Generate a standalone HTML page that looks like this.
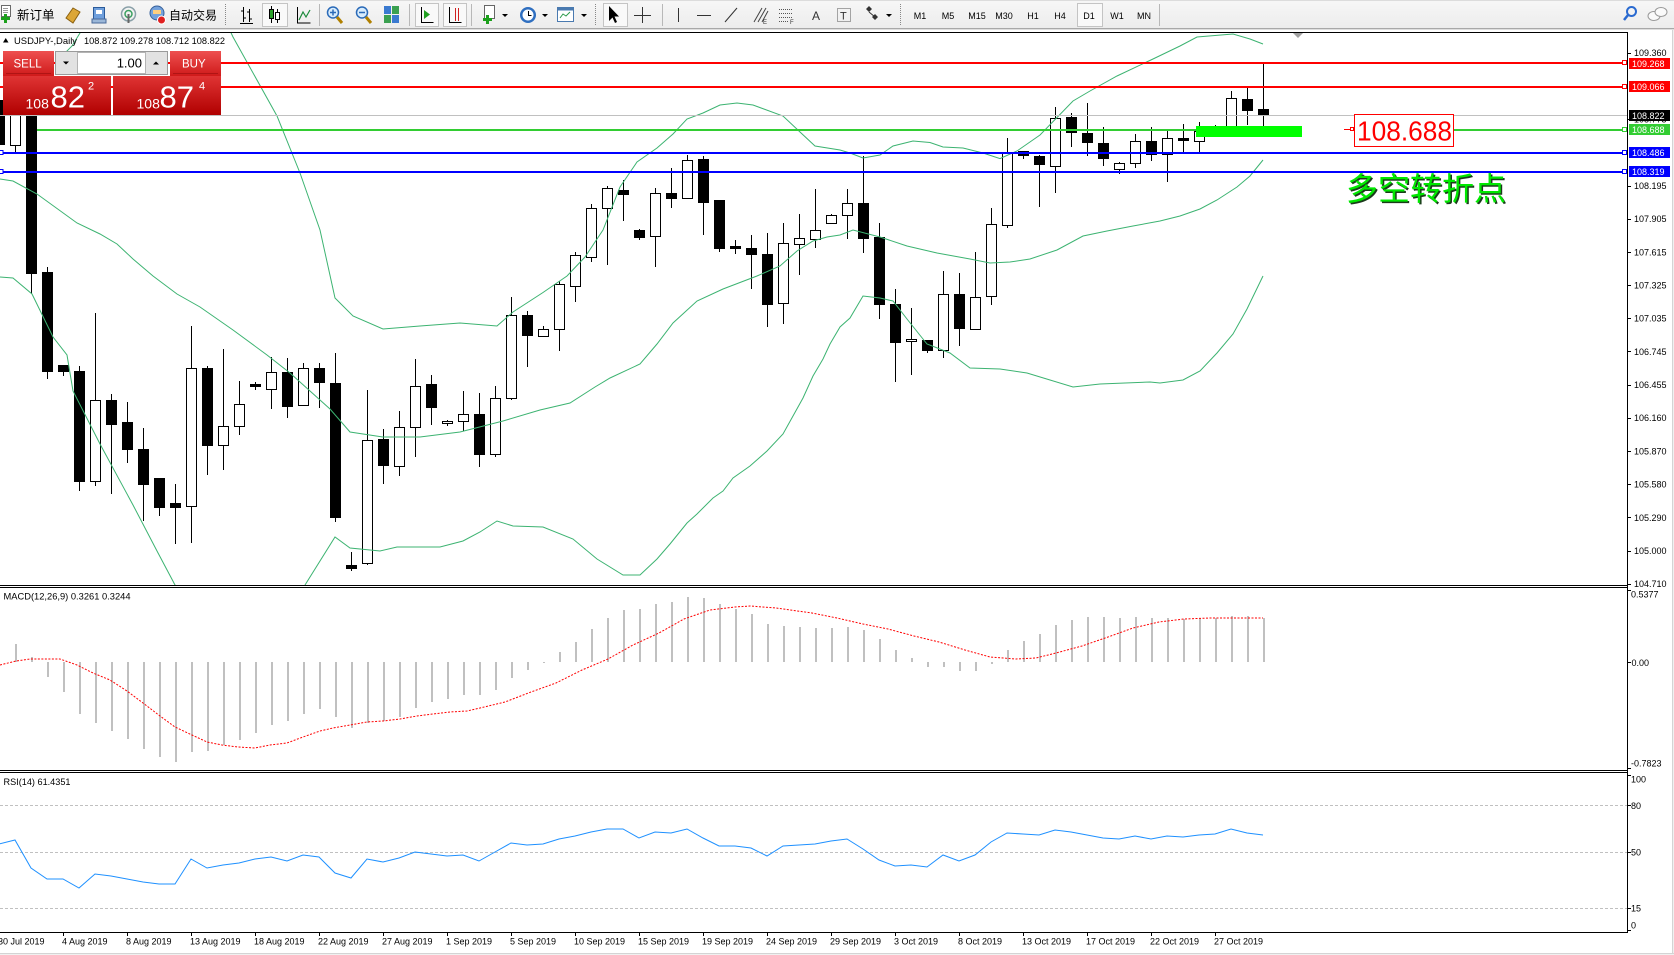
<!DOCTYPE html>
<html><head><meta charset="utf-8">
<style>
html,body{margin:0;padding:0;background:#fff;width:1674px;height:955px;overflow:hidden}
svg{display:block}
text{font-family:"Liberation Sans","Noto Sans CJK SC",sans-serif}
</style></head><body>
<svg xmlns="http://www.w3.org/2000/svg" width="1674" height="955" viewBox="0 0 1674 955">
<defs>
<clipPath id="cm"><rect x="0" y="33" width="1627" height="552"/></clipPath>
<clipPath id="cd"><rect x="0" y="588" width="1627" height="182"/></clipPath>
<clipPath id="cr"><rect x="0" y="773" width="1627" height="159"/></clipPath>
<linearGradient id="gbtn" x1="0" y1="0" x2="0" y2="1"><stop offset="0" stop-color="#ee5050"/><stop offset="1" stop-color="#cf1a1a"/></linearGradient>
<linearGradient id="gpr" x1="0" y1="0" x2="0" y2="1"><stop offset="0" stop-color="#e03434"/><stop offset="1" stop-color="#b00000"/></linearGradient>
<linearGradient id="gtb" x1="0" y1="0" x2="0" y2="1"><stop offset="0" stop-color="#f7f7f7"/><stop offset="1" stop-color="#ececec"/></linearGradient>
</defs>

<!-- ===== TOOLBAR ===== -->
<rect x="0" y="0" width="1674" height="29" fill="url(#gtb)"/>
<rect x="0" y="0" width="1674" height="1" fill="#dcdcdc"/>
<rect x="0" y="28" width="1674" height="1" fill="#a8a8a8"/>
<rect x="0" y="29" width="1674" height="1" fill="#dedede"/>

<!-- pressed boxes -->
<g fill="#f9f9f9" stroke="#c4c4c4">
<rect x="262.5" y="3.5" width="25" height="23"/>
<rect x="415.5" y="3.5" width="23" height="23"/>
<rect x="443.5" y="3.5" width="23" height="23"/>
<rect x="603.5" y="3.5" width="24" height="23"/>
<rect x="1077.5" y="3.5" width="25" height="23"/>
</g>

<!-- new order -->
<rect x="1.5" y="5.5" width="9" height="11" fill="#fff" stroke="#6a6a6a"/>
<path d="M3 8.5h5M3 10.5h5M3 12.5h5" stroke="#9a9a9a"/>
<path d="M1 18.5h9M5.5 14v9" stroke="#1ca01c" stroke-width="3"/>
<text x="17" y="19.5" font-size="12.5" fill="#000">新订单</text>
<!-- gold -->
<polygon points="66,18 73,8 80,12 73,23" fill="#dca636" stroke="#8a6010"/>
<!-- blue doc -->
<rect x="93.5" y="7.5" width="11" height="14" fill="#6f9fdc" stroke="#2a5a9a"/>
<rect x="96" y="10" width="6" height="4" fill="#fff"/>
<rect x="92" y="19" width="14" height="4" fill="#9bb7d8" stroke="#4a6a9a"/>
<!-- antenna -->
<circle cx="128.5" cy="14" r="7" fill="none" stroke="#8aa0a8" stroke-width="1.5"/>
<circle cx="128.5" cy="14" r="3.5" fill="none" stroke="#3aa060" stroke-width="1.5"/>
<rect x="127.5" y="14" width="2" height="9" fill="#666"/>
<!-- robot -->
<circle cx="157" cy="13" r="7" fill="#74a2dc" stroke="#355f99"/>
<rect x="153" y="10" width="8" height="4" fill="#ffd080"/>
<circle cx="161.5" cy="20" r="4" fill="#e02020" stroke="#fff"/>
<text x="169" y="19.5" font-size="12" fill="#000">自动交易</text>

<g stroke="#888" stroke-dasharray="1 1">
<line x1="225.5" y1="4" x2="225.5" y2="26"/>
<line x1="595.5" y1="4" x2="595.5" y2="26"/>
<line x1="900.5" y1="4" x2="900.5" y2="26"/>
</g>
<g stroke="#b8b8b8">
<line x1="319.5" y1="4" x2="319.5" y2="26"/>
<line x1="409.5" y1="4" x2="409.5" y2="26"/>
<line x1="471.5" y1="4" x2="471.5" y2="26"/>
<line x1="662.5" y1="4" x2="662.5" y2="26"/>
<line x1="1159.5" y1="4" x2="1159.5" y2="26"/>
</g>

<!-- chart type icons -->
<path d="M243.5 7v15M241 11h2.5M243.5 18h2.5M249.5 9v13M247 12h2.5M249.5 19h2.5M240 23.5h13" stroke="#000" fill="none"/>
<path d="M271.5 6v17M277.5 9v14" stroke="#000"/>
<rect x="269.5" y="9.5" width="4" height="9" fill="#2aa02a" stroke="#000"/>
<rect x="275.5" y="12.5" width="4" height="7" fill="#fff" stroke="#000"/>
<path d="M297.5 7v16h13" stroke="#000" fill="none"/>
<path d="M299 20l4-8 3 5 4-7" stroke="#1a8a3a" fill="none" stroke-width="1.2"/>
<!-- zoom -->
<circle cx="333" cy="12.5" r="5.5" fill="#d8ecfc" stroke="#2a6ab8" stroke-width="1.5"/>
<path d="M330 12.5h6M333 9.5v6" stroke="#2a6ab8" stroke-width="1.5"/>
<path d="M337 17l5 6" stroke="#b08000" stroke-width="3"/>
<circle cx="362" cy="12.5" r="5.5" fill="#d8ecfc" stroke="#2a6ab8" stroke-width="1.5"/>
<path d="M359 12.5h6" stroke="#2a6ab8" stroke-width="1.5"/>
<path d="M366 17l5 6" stroke="#b08000" stroke-width="3"/>
<!-- tile -->
<rect x="384" y="6" width="7" height="8" fill="#3a7ad0"/>
<rect x="392" y="6" width="7" height="8" fill="#3aa050"/>
<rect x="384" y="15" width="7" height="8" fill="#3aa050"/>
<rect x="392" y="15" width="7" height="8" fill="#3a7ad0"/>
<!-- scroll / shift -->
<path d="M421.5 7v15.5h12" stroke="#000" fill="none"/>
<polygon points="424,10 424,19 430,14.5" fill="#22a022"/>
<path d="M449.5 7v15.5h12" stroke="#000" fill="none"/>
<path d="M455.5 8v13M458.5 8v13" stroke="#d02020"/>
<!-- indicators/time/template -->
<rect x="484.5" y="5.5" width="10" height="13" fill="#fff" stroke="#666"/>
<path d="M483 19.5h9M487.5 15v9" stroke="#1ca01c" stroke-width="3"/>
<polygon points="502,14 508,14 505,17" fill="#000"/>
<circle cx="528" cy="15" r="8" fill="#2f6fc0"/>
<circle cx="528" cy="15" r="5.5" fill="#fff"/>
<path d="M528.5 11v4.5h3" stroke="#000" fill="none"/>
<polygon points="542,14 548,14 545,17" fill="#000"/>
<rect x="557.5" y="7.5" width="16" height="14" fill="#fff" stroke="#4a7ab0"/>
<rect x="557.5" y="7.5" width="16" height="3" fill="#4a7ab0"/>
<path d="M560 18l3-4 3 2 4-4" stroke="#2a9a4a" fill="none"/>
<polygon points="581,14 587,14 584,17" fill="#000"/>
<!-- drawing tools -->
<polygon points="609,6 609,21 612.5,17.5 615,23 617,22 614.5,16.5 619,16.5" fill="#000"/>
<path d="M642.5 7v16M634 15.5h17" stroke="#333"/>
<path d="M678.5 8v14" stroke="#333"/>
<path d="M697 15.5h14" stroke="#333"/>
<path d="M725 22l12-14" stroke="#333"/>
<path d="M754 22l8-14M758 22l8-14M762 22l6-11" stroke="#444"/>
<text x="763" y="24" font-size="6" fill="#333">E</text>
<path d="M779 9.5h14M779 13.5h14M779 17.5h14M779 21.5h10" stroke="#555" stroke-dasharray="1 1"/>
<text x="790" y="24" font-size="6" fill="#333">F</text>
<text x="812" y="20" font-size="12" fill="#333">A</text>
<rect x="837.5" y="8.5" width="13" height="13" fill="none" stroke="#555" stroke-dasharray="1 1"/>
<text x="840" y="19.5" font-size="11" fill="#333">T</text>
<path d="M866 9l3-3 3 3-3 3zM872 17l3-3 3 3-3 3z" fill="#333"/>
<path d="M869 12l6 5" stroke="#333"/>
<polygon points="886,14 892,14 889,17" fill="#000"/>
<!-- timeframes -->
<g font-size="9" fill="#000" text-anchor="middle">
<text x="920" y="19">M1</text>
<text x="948" y="19">M5</text>
<text x="977" y="19">M15</text>
<text x="1004" y="19">M30</text>
<text x="1033" y="19">H1</text>
<text x="1060" y="19">H4</text>
<text x="1089" y="19">D1</text>
<text x="1117" y="19">W1</text>
<text x="1144" y="19">MN</text>
</g>
<!-- search / chat -->
<circle cx="1631.5" cy="11.5" r="4.5" fill="none" stroke="#2a6ad0" stroke-width="2"/>
<path d="M1628 15l-4 5" stroke="#2a6ad0" stroke-width="2.5"/>
<ellipse cx="1654" cy="16" rx="6" ry="4.5" fill="#fafafa" stroke="#999"/>
<ellipse cx="1661" cy="12" rx="6" ry="4.5" fill="#fafafa" stroke="#999"/>

<!-- window edges -->
<rect x="1672" y="30" width="1" height="925" fill="#d4d4d4"/>
<rect x="1673" y="30" width="1" height="925" fill="#f0f0f0"/>
<rect x="0" y="953" width="1674" height="1" fill="#d4d4d4"/>
<rect x="0" y="954" width="1674" height="1" fill="#f0f0f0"/>

<!-- ===== MAIN PANE ===== -->
<g clip-path="url(#cm)">
<!-- candle wicks -->
<g fill="#000" shape-rendering="crispEdges">
<rect x="-1" y="95" width="1" height="50"/>
<rect x="15" y="95" width="1" height="59"/>
<rect x="31" y="100" width="1" height="194"/>
<rect x="47" y="267" width="1" height="112"/>
<rect x="63" y="365" width="1" height="11"/>
<rect x="79" y="366" width="1" height="125"/>
<rect x="95" y="313" width="1" height="173"/>
<rect x="111" y="394" width="1" height="100"/>
<rect x="127" y="402" width="1" height="61"/>
<rect x="143" y="428" width="1" height="93"/>
<rect x="159" y="478" width="1" height="38"/>
<rect x="175" y="484" width="1" height="60"/>
<rect x="191" y="326" width="1" height="217"/>
<rect x="207" y="366" width="1" height="109"/>
<rect x="223" y="349" width="1" height="121"/>
<rect x="239" y="381" width="1" height="54"/>
<rect x="255" y="382" width="1" height="8"/>
<rect x="271" y="357" width="1" height="52"/>
<rect x="287" y="358" width="1" height="60"/>
<rect x="303" y="363" width="1" height="43"/>
<rect x="319" y="363" width="1" height="45"/>
<rect x="335" y="353" width="1" height="169"/>
<rect x="351" y="552" width="1" height="19"/>
<rect x="367" y="390" width="1" height="175"/>
<rect x="383" y="429" width="1" height="55"/>
<rect x="399" y="411" width="1" height="65"/>
<rect x="415" y="359" width="1" height="98"/>
<rect x="431" y="375" width="1" height="50"/>
<rect x="447" y="420" width="1" height="6"/>
<rect x="463" y="391" width="1" height="40"/>
<rect x="479" y="393" width="1" height="74"/>
<rect x="495" y="386" width="1" height="71"/>
<rect x="511" y="297" width="1" height="103"/>
<rect x="527" y="311" width="1" height="56"/>
<rect x="543" y="326" width="1" height="10"/>
<rect x="559" y="281" width="1" height="70"/>
<rect x="575" y="252" width="1" height="50"/>
<rect x="591" y="204" width="1" height="58"/>
<rect x="607" y="186" width="1" height="79"/>
<rect x="623" y="180" width="1" height="41"/>
<rect x="639" y="229" width="1" height="11"/>
<rect x="655" y="188" width="1" height="79"/>
<rect x="671" y="168" width="1" height="40"/>
<rect x="687" y="155" width="1" height="43"/>
<rect x="703" y="156" width="1" height="79"/>
<rect x="719" y="200" width="1" height="52"/>
<rect x="735" y="240" width="1" height="14"/>
<rect x="751" y="235" width="1" height="54"/>
<rect x="767" y="233" width="1" height="94"/>
<rect x="783" y="223" width="1" height="101"/>
<rect x="799" y="214" width="1" height="61"/>
<rect x="815" y="189" width="1" height="59"/>
<rect x="831" y="214" width="1" height="9"/>
<rect x="847" y="189" width="1" height="50"/>
<rect x="863" y="156" width="1" height="97"/>
<rect x="879" y="223" width="1" height="96"/>
<rect x="895" y="289" width="1" height="93"/>
<rect x="911" y="308" width="1" height="67"/>
<rect x="927" y="340" width="1" height="13"/>
<rect x="943" y="271" width="1" height="87"/>
<rect x="959" y="273" width="1" height="73"/>
<rect x="975" y="252" width="1" height="77"/>
<rect x="991" y="208" width="1" height="97"/>
<rect x="1007" y="138" width="1" height="90"/>
<rect x="1023" y="151" width="1" height="8"/>
<rect x="1039" y="155" width="1" height="52"/>
<rect x="1055" y="107" width="1" height="86"/>
<rect x="1071" y="113" width="1" height="34"/>
<rect x="1087" y="103" width="1" height="53"/>
<rect x="1103" y="127" width="1" height="39"/>
<rect x="1119" y="162" width="1" height="12"/>
<rect x="1135" y="134" width="1" height="34"/>
<rect x="1151" y="127" width="1" height="34"/>
<rect x="1167" y="129" width="1" height="53"/>
<rect x="1183" y="124" width="1" height="29"/>
<rect x="1199" y="122" width="1" height="31"/>
<rect x="1215" y="125" width="1" height="11"/>
<rect x="1231" y="91" width="1" height="35"/>
<rect x="1247" y="87" width="1" height="38"/>
<rect x="1263" y="63" width="1" height="63"/>
<!-- black bodies -->
<rect x="-6" y="100" width="11" height="45"/>
<rect x="26" y="105" width="11" height="169"/>
<rect x="42" y="272" width="11" height="100"/>
<rect x="58" y="365" width="11" height="7"/>
<rect x="74" y="371" width="11" height="111"/>
<rect x="106" y="400" width="11" height="25"/>
<rect x="122" y="422" width="11" height="28"/>
<rect x="138" y="449" width="11" height="36"/>
<rect x="154" y="478" width="11" height="30"/>
<rect x="170" y="503" width="11" height="5"/>
<rect x="202" y="368" width="11" height="78"/>
<rect x="250" y="384" width="11" height="3"/>
<rect x="282" y="372" width="11" height="35"/>
<rect x="314" y="368" width="11" height="15"/>
<rect x="330" y="383" width="11" height="135"/>
<rect x="346" y="565" width="11" height="4"/>
<rect x="378" y="439" width="11" height="27"/>
<rect x="426" y="384" width="11" height="24"/>
<rect x="474" y="414" width="11" height="41"/>
<rect x="522" y="315" width="11" height="21"/>
<rect x="618" y="190" width="11" height="5"/>
<rect x="634" y="230" width="11" height="8"/>
<rect x="666" y="193" width="11" height="6"/>
<rect x="698" y="159" width="11" height="44"/>
<rect x="714" y="200" width="11" height="49"/>
<rect x="730" y="246" width="11" height="3"/>
<rect x="746" y="248" width="11" height="7"/>
<rect x="762" y="254" width="11" height="51"/>
<rect x="858" y="203" width="11" height="36"/>
<rect x="874" y="237" width="11" height="68"/>
<rect x="890" y="304" width="11" height="39"/>
<rect x="922" y="340" width="11" height="11"/>
<rect x="954" y="294" width="11" height="35"/>
<rect x="1018" y="151" width="11" height="5"/>
<rect x="1034" y="156" width="11" height="9"/>
<rect x="1066" y="117" width="11" height="16"/>
<rect x="1082" y="133" width="11" height="10"/>
<rect x="1098" y="143" width="11" height="16"/>
<rect x="1146" y="141" width="11" height="14"/>
<rect x="1178" y="138" width="11" height="3"/>
<rect x="1242" y="99" width="11" height="12"/>
<rect x="1258" y="109" width="11" height="6"/>
</g>
<!-- white bodies -->
<g fill="#fff" stroke="#000" stroke-width="1">
<rect x="10.5" y="100.5" width="10" height="45"/>
<rect x="90.5" y="400.5" width="10" height="81"/>
<rect x="186.5" y="368.5" width="10" height="138"/>
<rect x="218.5" y="426.5" width="10" height="19"/>
<rect x="234.5" y="404.5" width="10" height="22"/>
<rect x="266.5" y="372.5" width="10" height="17"/>
<rect x="298.5" y="368.5" width="10" height="37"/>
<rect x="362.5" y="440.5" width="10" height="123"/>
<rect x="394.5" y="427.5" width="10" height="39"/>
<rect x="410.5" y="386.5" width="10" height="41"/>
<rect x="442.5" y="421.5" width="10" height="2"/>
<rect x="458.5" y="414.5" width="10" height="7"/>
<rect x="490.5" y="398.5" width="10" height="56"/>
<rect x="506.5" y="315.5" width="10" height="83"/>
<rect x="538.5" y="329.5" width="10" height="7"/>
<rect x="554.5" y="284.5" width="10" height="45"/>
<rect x="570.5" y="255.5" width="10" height="31"/>
<rect x="586.5" y="208.5" width="10" height="49"/>
<rect x="602.5" y="188.5" width="10" height="20"/>
<rect x="650.5" y="193.5" width="10" height="43"/>
<rect x="682.5" y="160.5" width="10" height="38"/>
<rect x="778.5" y="243.5" width="10" height="60"/>
<rect x="794.5" y="238.5" width="10" height="6"/>
<rect x="810.5" y="230.5" width="10" height="9"/>
<rect x="826.5" y="215.5" width="10" height="8"/>
<rect x="842.5" y="203.5" width="10" height="12"/>
<rect x="906.5" y="339.5" width="10" height="2"/>
<rect x="938.5" y="294.5" width="10" height="56"/>
<rect x="970.5" y="297.5" width="10" height="32"/>
<rect x="986.5" y="224.5" width="10" height="72"/>
<rect x="1002.5" y="152.5" width="10" height="73"/>
<rect x="1050.5" y="118.5" width="10" height="48"/>
<rect x="1114.5" y="163.5" width="10" height="6"/>
<rect x="1130.5" y="141.5" width="10" height="22"/>
<rect x="1162.5" y="138.5" width="10" height="16"/>
<rect x="1194.5" y="131.5" width="10" height="10"/>
<rect x="1210.5" y="126.5" width="10" height="4"/>
<rect x="1226.5" y="98.5" width="10" height="28"/>
</g>

<!-- Bollinger bands -->
<g fill="none" stroke="#3cb371" stroke-width="1">
<polyline points="40,75 60,58 72,46 80,33 90,20 200,10 225,20 233,37 277,116 300,173 320,230 335,298 353,316 383,329 420,326 460,323 497,326 513,312 543,292.5 567,276 585,257 603,230 620,187 637,162 657,148 673,134 687,119 703,113 720,105 737,103 753,105 783,116 800,132 815,146 840,150 850,153 863,158 880,155 893,146 913,141 930,142.5 943,147 963,148 983,153 1000,158.6 1017,151 1040,135 1057,117.5 1073,101 1090,91 1117,76 1153,59 1180,46 1197,37 1233,34 1250,39 1263,44"/>
<polyline points="0,179 13,181 37,194 77,223 100,234 117,244 133,259 153,276 177,294 200,307 233,330 267,355 290,373 310,391 330,409 350,432 383,437 420,437 460,432 503,421 540,410 570,403 595,387 610,378 640,364 657,344 673,323 697,301 723,289 757,276 780,266 797,251 813,241 827,237 840,235 853,230 880,237 907,246 937,253 970,259 990,263 1010,262 1030,259 1057,250 1083,236 1107,231 1133,226 1160,221 1180,216 1200,209 1217,200 1237,187 1250,176 1263,160"/>
<polyline points="0,277 13,278 32,294 53,337 67,355 73,391 100,444 133,505 157,551 175,585 180,600"/>
<polyline points="295,600 305,585 335,537 350,548 380,551 397,547 420,547 440,547 463,541 480,532 497,521 513,526 543,527 573,539 597,559 623,575 640,575 657,559 670,544 687,523 697,514 713,498 723,491 733,478 750,466 767,451 783,434 793,416 803,398 813,376 823,359 830,344 840,327 850,318 863,296 880,298 893,301 907,319 927,344 950,353 970,368 1000,369 1027,373 1050,380 1073,387 1100,384 1150,382 1160,383 1183,380 1200,371 1217,353 1233,334 1247,309 1263,276"/>
</g>

<!-- objects -->
<g shape-rendering="crispEdges">
<rect x="0" y="62" width="1623" height="2" fill="#ff0000"/>
<rect x="0" y="86" width="1623" height="2" fill="#ff0000"/>
<rect x="0" y="115" width="1627" height="1" fill="#c0c0c0"/>
<rect x="37" y="129" width="1265" height="2" fill="#32cd32"/>
<rect x="1454" y="129" width="1169" height="2" fill="#32cd32"/>
<rect x="3" y="152" width="1620" height="2" fill="#0000ff"/>
<rect x="3" y="171" width="1620" height="2" fill="#0000ff"/>
<rect x="1196" y="126" width="106" height="11" fill="#00ff00"/>
<rect x="1344" y="129" width="7" height="1" fill="#ff0000"/>
</g>
<g fill="#fff" stroke-width="1">
<rect x="1622.5" y="60.5" width="4" height="4" stroke="#ff0000"/>
<rect x="1622.5" y="84.5" width="4" height="4" stroke="#ff0000"/>
<rect x="1622.5" y="127.5" width="4" height="4" stroke="#32cd32"/>
<rect x="1622.5" y="150.5" width="4" height="4" stroke="#0000ff"/>
<rect x="1622.5" y="169.5" width="4" height="4" stroke="#0000ff"/>
<rect x="-0.5" y="150.5" width="3.5" height="4" stroke="#0000ff"/>
<rect x="-0.5" y="169.5" width="3.5" height="4" stroke="#0000ff"/>
<rect x="1350.5" y="127.5" width="3" height="3" stroke="#ff0000"/>
</g>
<!-- chart shift marker -->
<polygon points="1293,33 1303,33 1298,38" fill="#a0a0a0"/>
</g>

<!-- annotations -->
<rect x="1354.5" y="114.5" width="99" height="32" fill="#fff" stroke="#ff0000"/>
<text x="1357" y="140.5" font-size="28" fill="#ff0000" textLength="95" lengthAdjust="spacingAndGlyphs">108.688</text>
<text x="1347.5" y="201.5" font-size="32" fill="#1b3b1b" font-family="'Noto Sans CJK SC','WenQuanYi Zen Hei',sans-serif">多空转折点</text>
<text x="1346" y="200" font-size="32" fill="#00e800" font-family="'Noto Sans CJK SC','WenQuanYi Zen Hei',sans-serif">多空转折点</text>

<!-- title -->
<polygon points="3,42.5 8.5,42.5 5.75,38" fill="#000"/>
<text x="14" y="44" font-size="9" fill="#000" textLength="63" lengthAdjust="spacingAndGlyphs">USDJPY-,Daily</text>
<text x="84" y="44" font-size="9" fill="#000" textLength="141" lengthAdjust="spacingAndGlyphs">108.872 109.278 108.712 108.822</text>

<!-- one-click trading panel -->
<rect x="3" y="51" width="51" height="25" fill="url(#gbtn)"/>
<rect x="6" y="73" width="45" height="1" fill="#b01414"/>
<text x="13.5" y="67.7" font-size="11.5" fill="#fff">SELL</text>
<rect x="55.5" y="51.5" width="112" height="23" fill="#f0f0f0" stroke="#9a9a9a"/>
<rect x="56" y="52" width="21" height="22" fill="#e2e2e2"/>
<rect x="77.5" y="52.5" width="68" height="21" fill="#fff" stroke="#b4b4b4"/>
<rect x="146" y="52" width="21" height="22" fill="#e2e2e2"/>
<polygon points="63,61.5 69,61.5 66,64.5" fill="#000"/>
<polygon points="153,64.5 159,64.5 156,61.5" fill="#000"/>
<text x="142" y="67.5" font-size="13" fill="#000" text-anchor="end">1.00</text>
<rect x="170" y="51" width="51" height="25" fill="url(#gbtn)"/>
<rect x="173" y="73" width="45" height="1" fill="#b01414"/>
<text x="182" y="67.7" font-size="11.5" fill="#fff">BUY</text>
<rect x="3" y="76" width="108" height="39" fill="url(#gpr)"/>
<rect x="113" y="76" width="108" height="39" fill="url(#gpr)"/>
<g fill="#fff">
<text x="25.5" y="108.3" font-size="14">108</text>
<text x="50.5" y="107.3" font-size="31">82</text>
<text x="88" y="89.3" font-size="11">2</text>
<text x="136.5" y="108.3" font-size="14">108</text>
<text x="159.5" y="107.3" font-size="31">87</text>
<text x="199" y="89.3" font-size="11">4</text>
</g>

<!-- ===== MACD PANE ===== -->
<g clip-path="url(#cd)">
<g fill="#c0c0c0" shape-rendering="crispEdges">
<rect x="15" y="644" width="2" height="18"/>
<rect x="31" y="657" width="2" height="5"/>
<rect x="47" y="662" width="2" height="15"/>
<rect x="63" y="662" width="2" height="30"/>
<rect x="79" y="662" width="2" height="52"/>
<rect x="95" y="662" width="2" height="61"/>
<rect x="111" y="662" width="2" height="69"/>
<rect x="127" y="662" width="2" height="77"/>
<rect x="143" y="662" width="2" height="87"/>
<rect x="159" y="662" width="2" height="95"/>
<rect x="175" y="662" width="2" height="100"/>
<rect x="191" y="662" width="2" height="90"/>
<rect x="207" y="662" width="2" height="89"/>
<rect x="223" y="662" width="2" height="83"/>
<rect x="239" y="662" width="2" height="78"/>
<rect x="255" y="662" width="2" height="71"/>
<rect x="271" y="662" width="2" height="63"/>
<rect x="287" y="662" width="2" height="59"/>
<rect x="303" y="662" width="2" height="52"/>
<rect x="319" y="662" width="2" height="47"/>
<rect x="335" y="662" width="2" height="55"/>
<rect x="351" y="662" width="2" height="66"/>
<rect x="367" y="662" width="2" height="61"/>
<rect x="383" y="662" width="2" height="59"/>
<rect x="399" y="662" width="2" height="55"/>
<rect x="415" y="662" width="2" height="46"/>
<rect x="431" y="662" width="2" height="40"/>
<rect x="447" y="662" width="2" height="37"/>
<rect x="463" y="662" width="2" height="33"/>
<rect x="479" y="662" width="2" height="33"/>
<rect x="495" y="662" width="2" height="28"/>
<rect x="511" y="662" width="2" height="16"/>
<rect x="527" y="662" width="2" height="8"/>
<rect x="543" y="662" width="2" height="1"/>
<rect x="559" y="652" width="2" height="10"/>
<rect x="575" y="642" width="2" height="20"/>
<rect x="591" y="629" width="2" height="33"/>
<rect x="607" y="618" width="2" height="44"/>
<rect x="623" y="610" width="2" height="52"/>
<rect x="639" y="609" width="2" height="53"/>
<rect x="655" y="604" width="2" height="58"/>
<rect x="671" y="602" width="2" height="60"/>
<rect x="687" y="597" width="2" height="65"/>
<rect x="703" y="598" width="2" height="64"/>
<rect x="719" y="604" width="2" height="58"/>
<rect x="735" y="609" width="2" height="53"/>
<rect x="751" y="614" width="2" height="48"/>
<rect x="767" y="624" width="2" height="38"/>
<rect x="783" y="626" width="2" height="36"/>
<rect x="799" y="627" width="2" height="35"/>
<rect x="815" y="628" width="2" height="34"/>
<rect x="831" y="628" width="2" height="34"/>
<rect x="847" y="627" width="2" height="35"/>
<rect x="863" y="630" width="2" height="32"/>
<rect x="879" y="639" width="2" height="23"/>
<rect x="895" y="650" width="2" height="12"/>
<rect x="911" y="658" width="2" height="4"/>
<rect x="927" y="662" width="2" height="5"/>
<rect x="943" y="662" width="2" height="5"/>
<rect x="959" y="662" width="2" height="9"/>
<rect x="975" y="662" width="2" height="9"/>
<rect x="991" y="662" width="2" height="2"/>
<rect x="1007" y="650" width="2" height="12"/>
<rect x="1023" y="641" width="2" height="21"/>
<rect x="1039" y="634" width="2" height="28"/>
<rect x="1055" y="625" width="2" height="37"/>
<rect x="1071" y="620" width="2" height="42"/>
<rect x="1087" y="617" width="2" height="45"/>
<rect x="1103" y="617" width="2" height="45"/>
<rect x="1119" y="618" width="2" height="44"/>
<rect x="1135" y="617" width="2" height="45"/>
<rect x="1151" y="618" width="2" height="44"/>
<rect x="1167" y="618" width="2" height="44"/>
<rect x="1183" y="619" width="2" height="43"/>
<rect x="1199" y="618" width="2" height="44"/>
<rect x="1215" y="618" width="2" height="44"/>
<rect x="1231" y="616" width="2" height="46"/>
<rect x="1247" y="616" width="2" height="46"/>
<rect x="1263" y="618" width="2" height="44"/>
</g>
<polyline fill="none" stroke="#ff0000" stroke-width="1" stroke-dasharray="2 1.5" points="0,665 16,661 30,659 47,659 60,659 77,665 93,673 110,680 127,691 143,703 160,716 175,727 192,735 207,742 222,745 238,747 255,748 270,745 287,743 303,737 320,731 333,728 350,725 367,722 383,721 400,719 417,716 433,714 450,712 467,711 480,708 505,702 531,692 556,683 582,670 608,659 633,645 659,633 684,619 710,610 735,607 750,606 776,608 812,613 837,618 863,624 888,629 914,636 939,642 965,650 990,657 1016,659 1036,658 1056,653 1082,646 1108,637 1133,628 1159,622 1184,619 1210,618 1263,618"/>
</g>
<text x="3.5" y="599.5" font-size="9" fill="#000" textLength="127" lengthAdjust="spacingAndGlyphs">MACD(12,26,9) 0.3261 0.3244</text>

<!-- ===== RSI PANE ===== -->
<g clip-path="url(#cr)">
<g stroke="#c0c0c0" stroke-dasharray="3 2" shape-rendering="crispEdges">
<line x1="0" y1="805.5" x2="1627" y2="805.5"/>
<line x1="0" y1="852.5" x2="1627" y2="852.5"/>
<line x1="0" y1="908.5" x2="1627" y2="908.5"/>
</g>
<polyline fill="none" stroke="#1e90ff" stroke-width="1" points="-1,844 15,840 31,868 47,879 63,879 79,888 95,874 111,876 127,879 143,882 159,884 175,884 191,859 207,868 223,865 239,863 255,859 271,857 287,861 303,855 319,857 335,873 351,878 367,859 383,862 399,858 415,852 431,854 447,856 463,855 479,861 495,852 511,843 527,845 543,844 559,839 575,836 591,832 607,829 623,829 639,838 655,832 671,833 687,829 703,838 719,846 735,846 751,848 767,856 783,846 799,845 815,844 831,841 847,839 863,849 879,860 895,866 911,865 927,867 943,855 959,861 975,855 991,842 1007,833 1023,834 1039,835 1055,830 1071,832 1087,835 1103,838 1119,839 1135,836 1151,839 1167,836 1183,837 1199,835 1215,834 1231,829 1247,833 1263,835"/>
</g>
<text x="3.5" y="785" font-size="9" fill="#000" textLength="67" lengthAdjust="spacingAndGlyphs">RSI(14) 61.4351</text>

<!-- ===== FRAME LINES ===== -->
<g fill="#000" shape-rendering="crispEdges">
<rect x="0" y="32" width="1628" height="1"/>
<rect x="1627" y="32" width="1" height="901"/>
<rect x="0" y="585" width="1628" height="1"/>
<rect x="0" y="587" width="1628" height="1"/>
<rect x="0" y="770" width="1628" height="1"/>
<rect x="0" y="772" width="1628" height="1"/>
<rect x="0" y="932" width="1628" height="1"/>
<!-- price axis ticks -->
<rect x="1628" y="53" width="3" height="1"/>
<rect x="1628" y="119" width="3" height="1"/>
<rect x="1628" y="186" width="3" height="1"/>
<rect x="1628" y="219" width="3" height="1"/>
<rect x="1628" y="252" width="3" height="1"/>
<rect x="1628" y="285" width="3" height="1"/>
<rect x="1628" y="318" width="3" height="1"/>
<rect x="1628" y="351" width="3" height="1"/>
<rect x="1628" y="385" width="3" height="1"/>
<rect x="1628" y="418" width="3" height="1"/>
<rect x="1628" y="451" width="3" height="1"/>
<rect x="1628" y="484" width="3" height="1"/>
<rect x="1628" y="517" width="3" height="1"/>
<rect x="1628" y="551" width="3" height="1"/>
<rect x="1628" y="584" width="3" height="1"/>
<!-- macd ticks -->
<rect x="1628" y="590" width="3" height="1"/>
<rect x="1628" y="662" width="3" height="1"/>
<rect x="1628" y="768" width="3" height="1"/>
<!-- rsi ticks -->
<rect x="1628" y="775" width="3" height="1"/>
<rect x="1628" y="805" width="3" height="1"/>
<rect x="1628" y="852" width="3" height="1"/>
<rect x="1628" y="908" width="3" height="1"/>
<rect x="1628" y="930" width="3" height="1"/>
<!-- date ticks -->
<rect x="63" y="932" width="1" height="4"/>
<rect x="127" y="932" width="1" height="4"/>
<rect x="191" y="932" width="1" height="4"/>
<rect x="255" y="932" width="1" height="4"/>
<rect x="319" y="932" width="1" height="4"/>
<rect x="383" y="932" width="1" height="4"/>
<rect x="447" y="932" width="1" height="4"/>
<rect x="511" y="932" width="1" height="4"/>
<rect x="575" y="932" width="1" height="4"/>
<rect x="639" y="932" width="1" height="4"/>
<rect x="703" y="932" width="1" height="4"/>
<rect x="767" y="932" width="1" height="4"/>
<rect x="831" y="932" width="1" height="4"/>
<rect x="895" y="932" width="1" height="4"/>
<rect x="959" y="932" width="1" height="4"/>
<rect x="1023" y="932" width="1" height="4"/>
<rect x="1087" y="932" width="1" height="4"/>
<rect x="1151" y="932" width="1" height="4"/>
<rect x="1215" y="932" width="1" height="4"/>
</g>

<!-- price axis labels -->
<g font-size="9" fill="#000">
<text x="1634" y="56.1">109.360</text>
<text x="1634" y="122.5">108.775</text>
<text x="1634" y="188.9">108.195</text>
<text x="1634" y="222.1">107.905</text>
<text x="1634" y="255.3">107.615</text>
<text x="1634" y="288.4">107.325</text>
<text x="1634" y="321.6">107.035</text>
<text x="1634" y="354.8">106.745</text>
<text x="1634" y="388">106.455</text>
<text x="1634" y="421.2">106.160</text>
<text x="1634" y="454.4">105.870</text>
<text x="1634" y="487.6">105.580</text>
<text x="1634" y="520.8">105.290</text>
<text x="1634" y="554">105.000</text>
<text x="1634" y="587.1">104.710</text>
<text x="1631" y="597.5">0.5377</text>
<text x="1631.5" y="666">0.00</text>
<text x="1631" y="766.5">-0.7823</text>
<text x="1631" y="782.5">100</text>
<text x="1631" y="809">80</text>
<text x="1631" y="855.5">50</text>
<text x="1631" y="911.5">15</text>
<text x="1631" y="928.5">0</text>
</g>
<!-- price boxes -->
<g shape-rendering="crispEdges">
<rect x="1629" y="58" width="41" height="11" fill="#ff0000"/>
<rect x="1629" y="81" width="41" height="11" fill="#ff0000"/>
<rect x="1629" y="110" width="41" height="11" fill="#000"/>
<rect x="1629" y="124" width="41" height="11" fill="#32cd32"/>
<rect x="1629" y="147" width="41" height="11" fill="#0000ff"/>
<rect x="1629" y="166" width="41" height="11" fill="#0000ff"/>
</g>
<g font-size="9" fill="#fff">
<text x="1632" y="66.8">109.268</text>
<text x="1632" y="89.8">109.066</text>
<text x="1632" y="118.8">108.822</text>
<text x="1632" y="132.8">108.688</text>
<text x="1632" y="155.8">108.486</text>
<text x="1632" y="174.8">108.319</text>
</g>

<!-- date labels -->
<g font-size="9" fill="#000">
<text x="-2" y="944.5">30 Jul 2019</text>
<text x="62" y="944.5">4 Aug 2019</text>
<text x="126" y="944.5">8 Aug 2019</text>
<text x="190" y="944.5">13 Aug 2019</text>
<text x="254" y="944.5">18 Aug 2019</text>
<text x="318" y="944.5">22 Aug 2019</text>
<text x="382" y="944.5">27 Aug 2019</text>
<text x="446" y="944.5">1 Sep 2019</text>
<text x="510" y="944.5">5 Sep 2019</text>
<text x="574" y="944.5">10 Sep 2019</text>
<text x="638" y="944.5">15 Sep 2019</text>
<text x="702" y="944.5">19 Sep 2019</text>
<text x="766" y="944.5">24 Sep 2019</text>
<text x="830" y="944.5">29 Sep 2019</text>
<text x="894" y="944.5">3 Oct 2019</text>
<text x="958" y="944.5">8 Oct 2019</text>
<text x="1022" y="944.5">13 Oct 2019</text>
<text x="1086" y="944.5">17 Oct 2019</text>
<text x="1150" y="944.5">22 Oct 2019</text>
<text x="1214" y="944.5">27 Oct 2019</text>
</g>
</svg>
</body></html>
